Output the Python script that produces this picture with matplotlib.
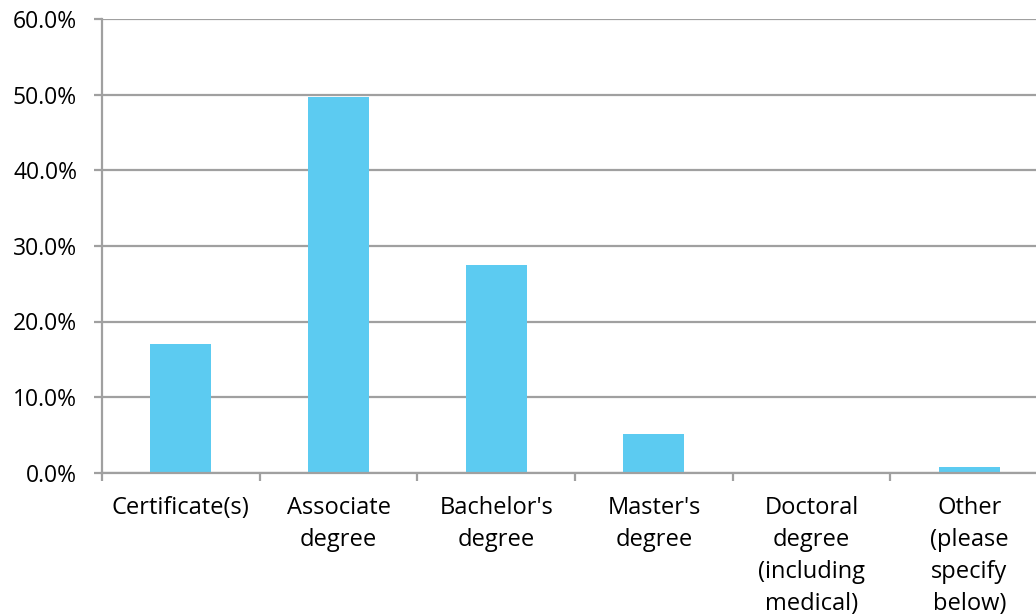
import matplotlib
matplotlib.use("Agg")
import matplotlib.pyplot as plt
from matplotlib.ticker import FixedLocator, FuncFormatter

categories = ["Certificate(s)", "Associate\ndegree", "Bachelor's\ndegree",
              "Master's\ndegree", "Doctoral\ndegree\n(including\nmedical)",
              "Other\n(please\nspecify\nbelow)"]
values = [17.0, 49.7, 27.5, 5.1, 0.0, 0.8]
yticks = [0, 10, 20, 30, 40, 50, 60]

plt.rcParams['font.family'] = ['Open Sans', 'DejaVu Sans']
grey = "#a0a0a0"
bar_color = "#5ccbf1"

fig = plt.figure(figsize=(10.36, 6.16), dpi=100)
ax = fig.add_axes([102/1036, 1 - 472.7/616, 6*157.7/1036, (472.7-19.1)/616])

x = list(range(len(categories)))
ax.bar(x, values, width=0.387, color=bar_color, zorder=3)

ax.set_xlim(-0.5, len(categories) - 0.5)
ax.set_ylim(0, 60)
ax.set_yticks(yticks)
ax.yaxis.set_major_formatter(FuncFormatter(lambda v, p: f"{v:.1f}%"))
ax.grid(axis='y', color=grey, linewidth=1.6, zorder=0)

ax.xaxis.set_major_locator(FixedLocator([i - 0.5 for i in range(len(categories) + 1)]))
ax.xaxis.set_minor_locator(FixedLocator(x))
ax.set_xticklabels([])
ax.set_xticklabels(categories, minor=True)
ax.tick_params(axis='x', which='major', length=6, width=1.6, color=grey, direction='out')
ax.tick_params(axis='x', which='minor', length=0, pad=17, labelsize=17)
for lbl in ax.get_xticklabels(minor=True):
    lbl.set_linespacing(1.43)
    lbl.set_horizontalalignment('center')
    lbl.set_verticalalignment('top')
ax.tick_params(axis='y', length=6, width=1.6, color=grey, direction='out', pad=12, labelsize=16.5)

for s in ['top', 'right']:
    ax.spines[s].set_visible(False)
for s in ['left', 'bottom']:
    ax.spines[s].set_color(grey)
    ax.spines[s].set_linewidth(1.6)
    ax.spines[s].set_zorder(4)

fig.savefig("out.png", dpi=100)
